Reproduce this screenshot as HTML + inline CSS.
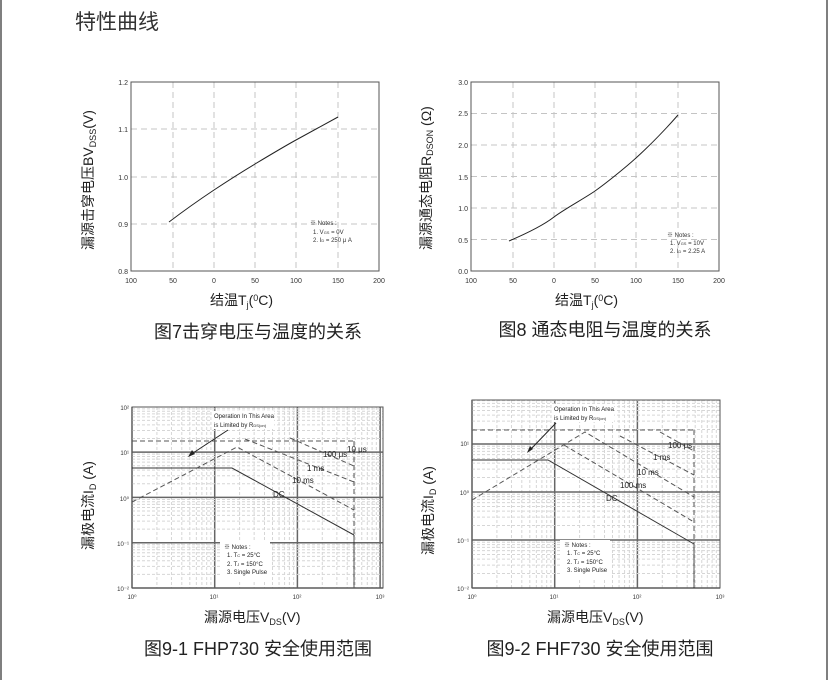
<!DOCTYPE html>
<html><head><meta charset="utf-8"><style>
body{margin:0;background:#fff;}
svg{display:block;font-family:"Liberation Sans","Noto Sans CJK SC",sans-serif;}
.cj{font-family:"Liberation Sans","Noto Sans CJK SC",sans-serif;}
</style></head><body>
<svg id="s" width="829" height="680" viewBox="0 0 829 680" xmlns="http://www.w3.org/2000/svg">
<rect x="0" y="0" width="829" height="680" fill="#fff"/>
<line x1="1" y1="0" x2="1" y2="680" stroke="#555" stroke-width="1.5"/>
<line x1="827" y1="0" x2="827" y2="680" stroke="#555" stroke-width="1.5"/>
<text x="75" y="29" font-size="21" fill="#333" class="cj">特性曲线</text>

<!-- Chart 1 -->
<g stroke="#c4c4c4" stroke-dasharray="6,4" stroke-width="1">
<line x1="173" y1="82" x2="173" y2="271"/><line x1="214" y1="82" x2="214" y2="271"/><line x1="255" y1="82" x2="255" y2="271"/><line x1="296" y1="82" x2="296" y2="271"/><line x1="338" y1="82" x2="338" y2="271"/>
<line x1="131" y1="129" x2="379" y2="129"/><line x1="131" y1="177" x2="379" y2="177"/><line x1="131" y1="224" x2="379" y2="224"/>
</g>
<rect x="131" y="82" width="248" height="189" fill="none" stroke="#555"/>
<path fill="none" stroke="#222" stroke-width="1" d="M169,222 C190,206 205,196 214,190 S245,170 255,164 S285,146 296,140 S325,124 338,117"/>
<g font-size="7" fill="#333" text-anchor="end">
<text x="128" y="85">1.2</text><text x="128" y="132">1.1</text><text x="128" y="180">1.0</text><text x="128" y="227">0.9</text><text x="128" y="274">0.8</text>
</g>
<g font-size="7" fill="#333" text-anchor="middle">
<text x="131" y="283">100</text><text x="173" y="283">50</text><text x="214" y="283">0</text><text x="255" y="283">50</text><text x="296" y="283">100</text><text x="338" y="283">150</text><text x="379" y="283">200</text>
</g>
<g font-size="6" fill="#333"><text x="310" y="225">※ Notes :</text><text x="313" y="234">1. V<tspan font-size="4">GS</tspan> = 0V</text><text x="313" y="242">2. I<tspan font-size="4">D</tspan> = 250 μ A</text></g>
<text x="210" y="305" font-size="14" fill="#222" class="cj">结温T<tspan font-size="9" dy="3">j</tspan><tspan dy="-3">(</tspan><tspan font-size="9" dy="-4">0</tspan><tspan dy="4">C)</tspan></text>
<text transform="translate(93,250) rotate(-90)" font-size="14" fill="#222" class="cj">漏源击穿电压BV<tspan font-size="9" dy="3">DSS</tspan><tspan dy="-3">(V)</tspan></text>
<text x="258" y="338" font-size="18" fill="#222" text-anchor="middle" class="cj">图7击穿电压与温度的关系</text>

<!-- Chart 2 -->
<g stroke="#c4c4c4" stroke-dasharray="6,4" stroke-width="1">
<line x1="513" y1="82" x2="513" y2="271"/><line x1="554" y1="82" x2="554" y2="271"/><line x1="595" y1="82" x2="595" y2="271"/><line x1="636" y1="82" x2="636" y2="271"/><line x1="678" y1="82" x2="678" y2="271"/>
<line x1="471" y1="113.5" x2="719" y2="113.5"/><line x1="471" y1="145" x2="719" y2="145"/><line x1="471" y1="176.5" x2="719" y2="176.5"/><line x1="471" y1="208" x2="719" y2="208"/><line x1="471" y1="239.5" x2="719" y2="239.5"/>
</g>
<rect x="471" y="82" width="248" height="189" fill="none" stroke="#555"/>
<path fill="none" stroke="#222" stroke-width="1" d="M509,241 C530,232 545,224 554,217 S585,198 595,191 S625,168 636,158 S665,130 678,115"/>
<g font-size="7" fill="#333" text-anchor="end">
<text x="468" y="85">3.0</text><text x="468" y="116">2.5</text><text x="468" y="148">2.0</text><text x="468" y="180">1.5</text><text x="468" y="211">1.0</text><text x="468" y="243">0.5</text><text x="468" y="274">0.0</text>
</g>
<g font-size="7" fill="#333" text-anchor="middle">
<text x="471" y="283">100</text><text x="513" y="283">50</text><text x="554" y="283">0</text><text x="595" y="283">50</text><text x="636" y="283">100</text><text x="678" y="283">150</text><text x="719" y="283">200</text>
</g>
<g font-size="6" fill="#333"><text x="667" y="237">※ Notes :</text><text x="670" y="245">1. V<tspan font-size="4">GS</tspan> = 10V</text><text x="670" y="253">2. I<tspan font-size="4">D</tspan> = 2.25 A</text></g>
<text x="555" y="305" font-size="14" fill="#222" class="cj">结温T<tspan font-size="9" dy="3">j</tspan><tspan dy="-3">(</tspan><tspan font-size="9" dy="-4">0</tspan><tspan dy="4">C)</tspan></text>
<text transform="translate(431,250) rotate(-90)" font-size="14" fill="#222" class="cj">漏源通态电阻R<tspan font-size="9" dy="2">DSON</tspan><tspan dy="-2"> (Ω)</tspan></text>
<text x="605" y="336" font-size="18" fill="#222" text-anchor="middle" class="cj">图8 通态电阻与温度的关系</text>

<g id="g3"></g><g id="g4"></g>
<!-- Chart 3 -->
<rect x="132" y="407" width="251" height="181" fill="none" stroke="#555"/>
<g fill="none" stroke="#333" stroke-width="1">
<polyline points="132,468 232,468 354,535"/>
<line x1="354" y1="535" x2="354" y2="588"/>
</g>
<g fill="none" stroke="#555" stroke-width="1" stroke-dasharray="5,3">
<line x1="132" y1="441" x2="354" y2="441"/><line x1="354" y1="441" x2="354" y2="588"/>
<polyline points="132,502 237,447 354,510"/>
<polyline points="245,439 354,482"/>
<polyline points="290,438 354,466"/>
</g>
<rect x="212" y="411" width="62" height="18" fill="#fff"/>
<g font-size="6" fill="#222"><text x="214" y="418">Operation In This Area</text><text x="214" y="427">is Limited by R<tspan font-size="4">DS(on)</tspan></text></g>
<line x1="228" y1="430" x2="190" y2="455" stroke="#222"/><polygon points="188,457 192,450 195,454" fill="#222"/>
<g font-size="8" fill="#222"><text x="323" y="457">100 μs</text><text x="347" y="452">10 μs</text><text x="307" y="471">1 ms</text><text x="292" y="483">10 ms</text><text x="273" y="497">DC</text></g>
<rect x="220" y="540" width="50" height="40" fill="#fff"/>
<g font-size="6" fill="#222"><text x="224" y="549">※ Notes :</text><text x="227" y="557">1. T<tspan font-size="4">C</tspan> = 25°C</text><text x="227" y="566">2. T<tspan font-size="4">J</tspan> = 150°C</text><text x="227" y="574">3. Single Pulse</text></g>
<g font-size="6" fill="#333" text-anchor="end"><text x="129" y="410">10²</text><text x="129" y="455">10¹</text><text x="129" y="501">10⁰</text><text x="129" y="546">10⁻¹</text><text x="129" y="591">10⁻²</text></g>
<g font-size="6" fill="#333" text-anchor="middle"><text x="132" y="599">10⁰</text><text x="214" y="599">10¹</text><text x="297" y="599">10²</text><text x="380" y="599">10³</text></g>
<text x="204" y="622" font-size="14" fill="#222" class="cj">漏源电压V<tspan font-size="9" dy="3">DS</tspan><tspan dy="-3">(V)</tspan></text>
<text transform="translate(93,550) rotate(-90)" font-size="14" fill="#222" class="cj">漏极电流I<tspan font-size="9" dy="3">D</tspan><tspan dy="-3"> (A)</tspan></text>
<text x="258" y="655" font-size="18" fill="#222" text-anchor="middle" class="cj">图9-1 FHP730 安全使用范围</text>

<!-- Chart 4 -->
<rect x="472" y="400" width="248" height="188" fill="none" stroke="#555"/>
<g fill="none" stroke="#333" stroke-width="1">
<polyline points="472,460 548,460 694,544"/>
<line x1="694" y1="544" x2="694" y2="588"/>
</g>
<g fill="none" stroke="#555" stroke-width="1" stroke-dasharray="5,3">
<line x1="472" y1="430" x2="694" y2="430"/><line x1="694" y1="430" x2="694" y2="588"/>
<polyline points="472,500 585,432 694,497"/>
<polyline points="564,445 694,522"/>
<polyline points="620,436 694,475"/>
<polyline points="660,432 694,451"/>
</g>
<rect x="552" y="404" width="62" height="18" fill="#fff"/>
<g font-size="6" fill="#222"><text x="554" y="411">Operation In This Area</text><text x="554" y="420">is Limited by R<tspan font-size="4">DS(on)</tspan></text></g>
<line x1="556" y1="423" x2="530" y2="450" stroke="#222"/><polygon points="527,453 530,446 533,449" fill="#222"/>
<g font-size="8" fill="#222"><text x="668" y="448">100 μs</text><text x="653" y="460">1 ms</text><text x="637" y="475">10 ms</text><text x="620" y="488">100 ms</text><text x="606" y="501">DC</text></g>
<rect x="560" y="540" width="50" height="40" fill="#fff"/>
<g font-size="6" fill="#222"><text x="564" y="547">※ Notes :</text><text x="567" y="555">1. T<tspan font-size="4">C</tspan> = 25°C</text><text x="567" y="564">2. T<tspan font-size="4">J</tspan> = 150°C</text><text x="567" y="572">3. Single Pulse</text></g>
<g font-size="6" fill="#333" text-anchor="end"><text x="469" y="446">10¹</text><text x="469" y="495">10⁰</text><text x="469" y="543">10⁻¹</text><text x="469" y="591">10⁻²</text></g>
<g font-size="6" fill="#333" text-anchor="middle"><text x="472" y="599">10⁰</text><text x="554" y="599">10¹</text><text x="637" y="599">10²</text><text x="720" y="599">10³</text></g>
<text x="547" y="622" font-size="14" fill="#222" class="cj">漏源电压V<tspan font-size="9" dy="3">DS</tspan><tspan dy="-3">(V)</tspan></text>
<text transform="translate(433,555) rotate(-90)" font-size="14" fill="#222" class="cj">漏极电流I<tspan font-size="9" dy="3">D</tspan><tspan dy="-3"> (A)</tspan></text>
<text x="600" y="655" font-size="18" fill="#222" text-anchor="middle" class="cj">图9-2 FHF730 安全使用范围</text>
</svg>
<script>
function grid(id,x0,x1,dx,xdec,y0,y1,ydec){
 var g=document.getElementById(id),s='';
 for(var d=0;d<xdec;d++)for(var k=1;k<=9;k++){var x=x0+dx*(d+Math.log10(k));
  if(x>x1)continue;
  if(k==1){s+='<line x1="'+x+'" y1="'+y0+'" x2="'+x+'" y2="'+y1+'" stroke="#666" stroke-width="1.5"/>';}
  else s+='<line x1="'+x+'" y1="'+y0+'" x2="'+x+'" y2="'+y1+'" stroke="#d6d6d6" stroke-dasharray="3,2"/>';}
 for(var d=0;d<5;d++)for(var k=1;k<=9;k++){var y=y1-ydec*(d+Math.log10(k));
  if(y<y0)continue;
  if(k==1){s+='<line x1="'+x0+'" y1="'+y+'" x2="'+x1+'" y2="'+y+'" stroke="#666" stroke-width="1.5"/>';}
  else s+='<line x1="'+x0+'" y1="'+y+'" x2="'+x1+'" y2="'+y+'" stroke="#d6d6d6" stroke-dasharray="3,2"/>';}
 g.innerHTML=s;
}
grid('g3',132,383,82.7,4,407,588,45.3);
grid('g4',472,720,82.7,4,400,588,48);
</script>
</body></html>
